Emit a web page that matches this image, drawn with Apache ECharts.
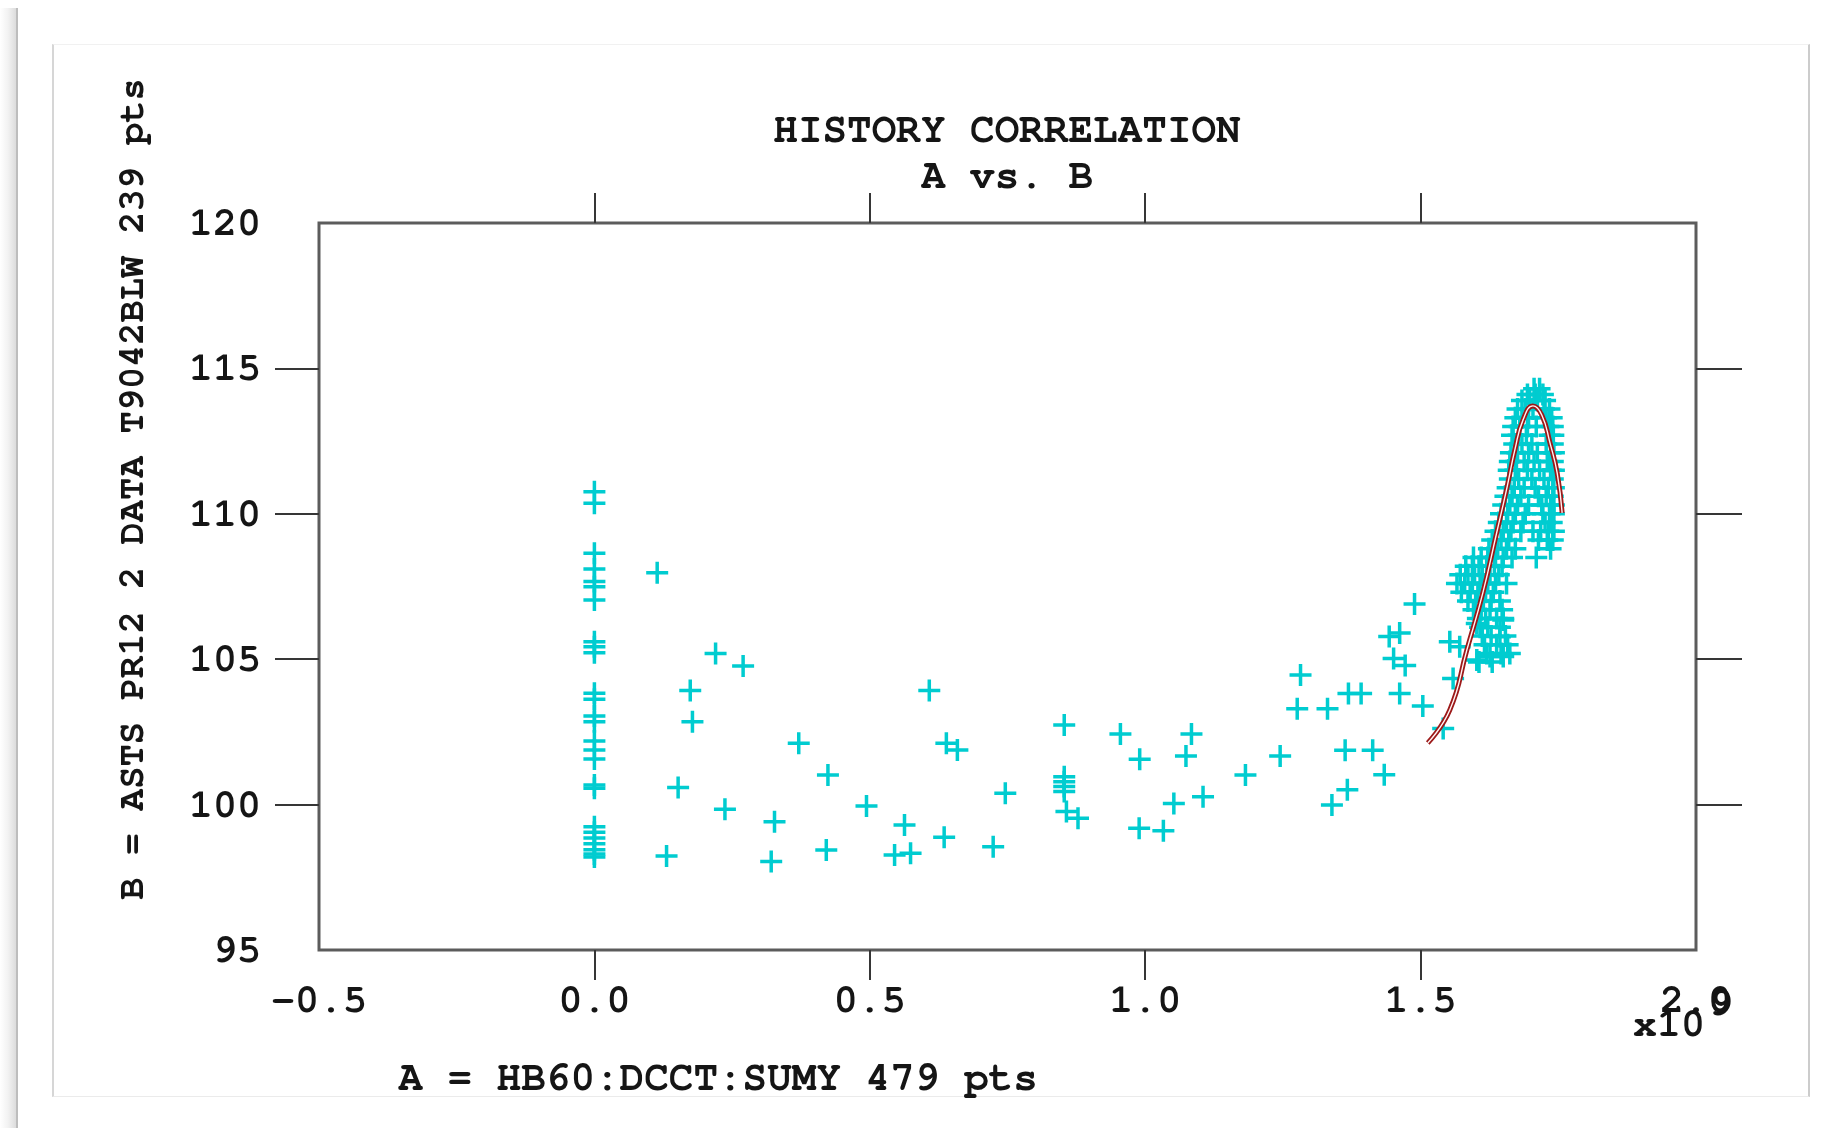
<!DOCTYPE html>
<html>
<head>
<meta charset="utf-8">
<title>HISTORY CORRELATION</title>
<script src="https://cdn.jsdelivr.net/npm/echarts@6/dist/echarts.min.js"></script>
<style>
  html, body { margin: 0; padding: 0; background: #fff; width: 1821px; height: 1128px; overflow: hidden; }
  #edge { position: absolute; left: 0; top: 8px; width: 16px; bottom: 0;
          background: linear-gradient(to right, #ffffff 0%, #f2f2f2 50%, #dcdcdc 100%);
          border-right: 2px solid #bdbdbd; }
  #panel { position: absolute; left: 52px; top: 44px; width: 1754px; height: 1051px;
           border-top: 1px solid #f1f1f1; border-bottom: 1px solid #ebebeb;
           border-left: 2px solid #d6d6d6; border-right: 2px solid #cccccc; }
  #chart { position: absolute; left: 0; top: 0; width: 1821px; height: 1128px; }
</style>
</head>
<body>
<div id="edge"></div>
<div id="panel"></div>
<div id="chart"></div>
<script>
// ---- axis ranges and tick positions ----
const xRange = [-0.5, 2.0];
const yRange = [95, 120];
const xTickValues = [0.0, 0.5, 1.0, 1.5];
const yTickValues = [100, 105, 110, 115];

// ---- A vs. B samples (A in units of 1e9) ----
// samples taken while A was zero
const zeroColumnB = [110.76, 110.36, 108.64, 108.10, 107.67, 107.49, 107.04, 105.60, 105.43, 105.22,
  103.83, 103.62, 103.05, 102.85, 102.19, 101.88, 101.57, 100.67, 100.56, 99.24, 99.05, 98.85,
  98.65, 98.45, 98.30, 98.20];

// ramp-up samples
const rampPts = [
  [0.114, 107.97], [0.220, 105.20], [0.270, 104.77], [0.174, 103.92], [0.178, 102.85], [0.371, 102.11],
  [0.608, 103.92], [0.639, 102.11], [0.659, 101.88], [0.424, 101.02], [0.152, 100.59], [0.237, 99.84],
  [0.327, 99.41], [0.494, 99.95], [0.563, 99.30], [0.635, 98.88], [0.724, 98.55], [0.746, 100.39],
  [0.131, 98.23], [0.321, 98.04], [0.421, 98.44], [0.545, 98.27], [0.574, 98.33], [0.853, 102.74],
  [0.853, 100.96], [0.853, 100.79], [0.853, 100.62], [0.853, 100.45], [0.857, 99.76], [0.878, 99.53],
  [0.955, 102.43], [0.990, 101.56], [1.084, 102.43], [1.074, 101.67], [1.182, 101.02], [1.052, 100.04],
  [1.105, 100.27], [0.989, 99.19], [1.033, 99.10],
  [1.245, 101.67], [1.282, 104.46], [1.276, 103.30], [1.331, 103.30], [1.369, 103.82], [1.392, 103.82],
  [1.363, 101.87], [1.413, 101.87], [1.339, 99.99], [1.367, 100.51], [1.434, 101.03], [1.462, 103.82],
  [1.443, 105.78], [1.462, 105.90], [1.451, 105.02], [1.472, 104.78], [1.489, 106.90], [1.504, 103.39],
  [1.541, 102.62], [1.559, 104.34], [1.553, 105.60], [1.571, 105.43], [1.602, 104.97], [1.626, 105.09],
  [1.650, 105.09], [1.602, 106.23], [1.650, 106.35], [1.644, 105.77]
];

// high-current samples
const clusterPts = [
  [1.706, 114.3], [1.716, 114.3],
  [1.694, 114.1], [1.708, 114.1], [1.722, 114.1],
  [1.684, 113.9], [1.698, 113.9], [1.712, 113.9], [1.726, 113.9],
  [1.676, 113.6], [1.690, 113.6], [1.704, 113.6], [1.724, 113.6], [1.734, 113.6],
  [1.672, 113.3], [1.684, 113.3], [1.696, 113.3], [1.728, 113.3], [1.738, 113.3],
  [1.668, 113.0], [1.680, 113.0], [1.694, 113.0], [1.710, 113.0], [1.732, 113.0], [1.740, 113.0],
  [1.666, 112.7], [1.678, 112.7], [1.692, 112.7], [1.734, 112.7], [1.741, 112.7],
  [1.670, 112.4], [1.684, 112.4], [1.702, 112.4], [1.728, 112.4], [1.740, 112.4],
  [1.664, 112.1], [1.676, 112.1], [1.696, 112.1], [1.712, 112.1], [1.736, 112.1], [1.742, 112.1],
  [1.662, 111.8], [1.674, 111.8], [1.688, 111.8], [1.706, 111.8], [1.730, 111.8], [1.740, 111.8],
  [1.660, 111.5], [1.672, 111.5], [1.694, 111.5], [1.716, 111.5], [1.736, 111.5], [1.742, 111.5],
  [1.662, 111.2], [1.678, 111.2], [1.702, 111.2], [1.724, 111.2], [1.740, 111.2],
  [1.658, 110.9], [1.670, 110.9], [1.688, 110.9], [1.708, 110.9], [1.732, 110.9], [1.742, 110.9],
  [1.654, 110.6], [1.666, 110.6], [1.682, 110.6], [1.714, 110.6], [1.728, 110.6], [1.740, 110.6],
  [1.650, 110.3], [1.662, 110.3], [1.676, 110.3], [1.696, 110.3], [1.720, 110.3], [1.736, 110.3], [1.742, 110.3],
  [1.646, 110.0], [1.658, 110.0], [1.672, 110.0], [1.690, 110.0], [1.722, 110.0], [1.734, 110.0], [1.742, 110.0],
  [1.642, 109.7], [1.656, 109.7], [1.668, 109.7], [1.686, 109.7], [1.726, 109.7], [1.738, 109.7],
  [1.636, 109.4], [1.650, 109.4], [1.664, 109.4], [1.682, 109.4], [1.704, 109.4], [1.718, 109.4], [1.732, 109.4], [1.742, 109.4],
  [1.630, 109.1], [1.646, 109.1], [1.660, 109.1], [1.714, 109.1], [1.730, 109.1], [1.740, 109.1],
  [1.624, 108.8], [1.640, 108.8], [1.656, 108.8], [1.672, 108.8], [1.736, 108.8],
  [1.596, 108.5], [1.610, 108.5], [1.622, 108.5], [1.636, 108.5], [1.650, 108.5], [1.666, 108.5], [1.710, 108.5],
  [1.582, 108.2], [1.594, 108.2], [1.606, 108.2], [1.620, 108.2], [1.634, 108.2], [1.648, 108.2],
  [1.572, 107.9], [1.586, 107.9], [1.598, 107.9], [1.612, 107.9], [1.626, 107.9], [1.642, 107.9],
  [1.566, 107.6], [1.580, 107.6], [1.594, 107.6], [1.608, 107.6], [1.622, 107.6], [1.636, 107.6], [1.656, 107.6],
  [1.574, 107.3], [1.590, 107.3], [1.604, 107.3], [1.618, 107.3], [1.632, 107.3],
  [1.586, 107.0], [1.600, 107.0], [1.614, 107.0], [1.628, 107.0], [1.644, 107.0],
  [1.596, 106.7], [1.610, 106.7], [1.626, 106.7], [1.648, 106.7],
  [1.604, 106.4], [1.618, 106.4], [1.638, 106.4], [1.650, 106.4],
  [1.608, 106.1], [1.622, 106.1], [1.644, 106.1],
  [1.612, 105.8], [1.628, 105.8], [1.654, 105.8],
  [1.616, 105.5], [1.638, 105.5], [1.658, 105.5],
  [1.620, 105.2], [1.646, 105.2], [1.662, 105.2],
  [1.606, 104.9], [1.630, 104.9]
];

// fitted correlation curve
const fitCurve = [
  [1.513, 102.12], [1.553, 103.25], [1.584, 105.32], [1.613, 107.28], [1.638, 109.34], [1.657, 110.92],
  [1.671, 112.19], [1.686, 113.23], [1.704, 113.71], [1.720, 113.40], [1.735, 112.43], [1.748, 111.40],
  [1.757, 110.03]
];

// ---- text ----
const titleText = 'HISTORY CORRELATION';
const subtitleText = 'A vs. B';
const yName = 'B = ASTS PR12 2 DATA T9042BLW 239 pts';
const xName = 'A = HB60:DCCT:SUMY 479 pts';
const xMultiplier = 'x10';
const xExponent = '9';

const allPts = zeroColumnB.map(b => [0.0, b]).concat(rampPts, clusterPts);

const MONO = '"Nimbus Mono PS", "FreeMono", "Courier New", "Liberation Mono", monospace';
const INK = '#151515';
const plus = 'path://M9.25,0H12.75V9.25H22V12.75H12.75V22H9.25V12.75H0V9.25H9.25Z';

const labelFont = () => ({ fontFamily: MONO, fontWeight: 'bold', fontSize: 40, color: INK });
const noLine = () => ({ show: false, onZero: false });
const ticks = (len, values) => ({ show: true, inside: false, length: len, customValues: values,
                                  lineStyle: { color: '#363636', width: 2 } });

function xAx(pos, withLabels) {
  return { type: 'value', min: xRange[0], max: xRange[1], interval: 0.5, position: pos,
           splitLine: { show: false }, axisLine: noLine(), axisTick: ticks(30, xTickValues),
           axisLabel: withLabels
             ? Object.assign({ margin: 30, showMinLabel: true, showMaxLabel: true,
                               formatter: v => v.toFixed(1) }, labelFont())
             : { show: false } };
}
function yAx(pos, withLabels, tickLen) {
  return { type: 'value', min: yRange[0], max: yRange[1], interval: 5, position: pos,
           splitLine: { show: false }, axisLine: noLine(), axisTick: ticks(tickLen, yTickValues),
           axisLabel: withLabels
             ? Object.assign({ margin: 58, showMinLabel: true, showMaxLabel: true }, labelFont())
             : { show: false } };
}

const chart = echarts.init(document.getElementById('chart'), null, { renderer: 'canvas' });
chart.setOption({
  animation: false,
  backgroundColor: 'transparent',
  grid: { left: 319, top: 223, width: 1377, height: 727, show: true,
          borderColor: '#5c5c5c', borderWidth: 3, backgroundColor: 'transparent' },
  xAxis: [xAx('bottom', true), xAx('top', false)],
  yAxis: [yAx('left', true, 44), yAx('right', false, 46)],
  series: [
    { type: 'scatter', name: 'A vs. B', data: allPts, symbol: plus, symbolSize: 22,
      itemStyle: { color: '#00ccd0', opacity: 1 }, emphasis: { disabled: true }, z: 2 },
    { type: 'line', name: 'fit', data: fitCurve, smooth: true, symbol: 'none',
      lineStyle: { color: '#9c1a1a', width: 5 }, z: 3, silent: true },
    { type: 'line', name: 'fit core', data: fitCurve, smooth: true, symbol: 'none',
      lineStyle: { color: '#fff4f4', width: 1.4 }, z: 4, silent: true }
  ],
  graphic: [
    { type: 'text', x: 1007, y: 130, style: { text: titleText, font: 'bold 41px ' + MONO, fill: INK, align: 'center', verticalAlign: 'middle' } },
    { type: 'text', x: 1007, y: 176, style: { text: subtitleText, font: 'bold 41px ' + MONO, fill: INK, align: 'center', verticalAlign: 'middle' } },
    { type: 'text', x: 132, y: 489, rotation: Math.PI / 2, style: { text: yName, font: 'bold 37px ' + MONO, fill: INK, align: 'center', verticalAlign: 'middle' } },
    { type: 'text', x: 718, y: 1078, style: { text: xName, font: 'bold 41px ' + MONO, fill: INK, align: 'center', verticalAlign: 'middle' } },
    { type: 'text', x: 1633, y: 1024, style: { text: xMultiplier, font: 'bold 40px ' + MONO, fill: INK, align: 'left', verticalAlign: 'middle' } },
    { type: 'text', x: 1709, y: 1003, style: { text: xExponent, font: 'bold 40px ' + MONO, fill: INK, align: 'left', verticalAlign: 'middle' } }
  ]
});
</script>
</body>
</html>
